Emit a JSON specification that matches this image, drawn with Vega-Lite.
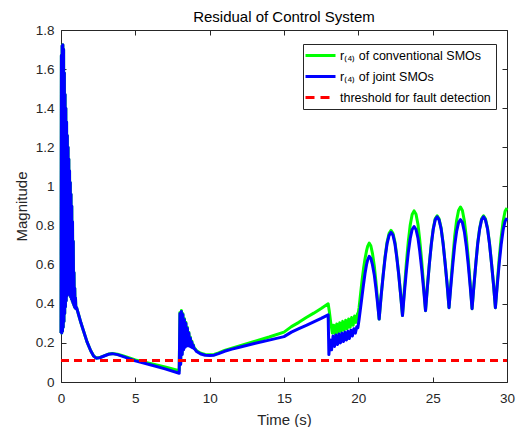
{
  "$schema": "https://vega.github.io/schema/vega-lite/v6.json",
  "width": 446,
  "height": 352,
  "autosize": {"type": "none"},
  "padding": {"left": 61, "top": 30, "right": 17, "bottom": 45},
  "background": "white",
  "title": {"text": "Residual of Control System", "fontSize": 15, "fontWeight": "normal", "font": "Liberation Sans", "color": "#000000", "offset": -2, "anchor": "middle"},
  "config": {"view": {"stroke": null}, "font": "Liberation Sans"},
  "datasets": {
    "conv": [
      {"t":0,"v":0.25},{"t":0.025,"v":1.67},{"t":0.05,"v":0.25},{"t":0.075,"v":1.72},{"t":0.1,"v":0.26},{"t":0.125,"v":1.725},{"t":0.15,"v":0.28},{"t":0.175,"v":1.7},{"t":0.2,"v":0.31},{"t":0.225,"v":1.58},{"t":0.25,"v":0.35},{"t":0.275,"v":1.47},{"t":0.3,"v":0.385},{"t":0.325,"v":1.4},{"t":0.35,"v":0.415},{"t":0.375,"v":1.33},{"t":0.4,"v":0.44},{"t":0.425,"v":1.26},{"t":0.45,"v":0.455},{"t":0.475,"v":1.2},{"t":0.5,"v":0.46},{"t":0.525,"v":1.14},{"t":0.55,"v":0.455},{"t":0.575,"v":1.08},{"t":0.6,"v":0.445},{"t":0.625,"v":1.02},{"t":0.65,"v":0.435},{"t":0.675,"v":0.96},{"t":0.7,"v":0.425},{"t":0.725,"v":0.9},{"t":0.75,"v":0.415},{"t":0.775,"v":0.82},{"t":0.8,"v":0.405},{"t":0.825,"v":0.72},{"t":0.85,"v":0.395},{"t":0.875,"v":0.56},{"t":0.9,"v":0.385},{"t":0.925,"v":0.48},{"t":0.95,"v":0.378},{"t":0.975,"v":0.43},{"t":1.0,"v":0.375},
      {"t":1.05,"v":0.38},{"t":1.2,"v":0.34},{"t":1.35,"v":0.3},{"t":1.5,"v":0.265},{"t":1.75,"v":0.205},{"t":2.0,"v":0.16},{"t":2.2,"v":0.133},{"t":2.37,"v":0.123},{"t":2.6,"v":0.125},{"t":2.9,"v":0.134},{"t":3.2,"v":0.143},{"t":3.45,"v":0.146},{"t":3.8,"v":0.142},{"t":4.2,"v":0.133},{"t":5,"v":0.113},{"t":6,"v":0.095},{"t":7,"v":0.077},{"t":7.95,"v":0.058},
      {"t":8.0,"v":0.355},{"t":8.05,"v":0.095},{"t":8.1,"v":0.365},{"t":8.15,"v":0.145},{"t":8.2,"v":0.35},{"t":8.25,"v":0.17},{"t":8.3,"v":0.325},{"t":8.35,"v":0.182},{"t":8.4,"v":0.305},{"t":8.45,"v":0.188},{"t":8.5,"v":0.28},{"t":8.55,"v":0.189},{"t":8.6,"v":0.255},{"t":8.65,"v":0.187},{"t":8.7,"v":0.23},{"t":8.75,"v":0.183},{"t":8.8,"v":0.21},{"t":8.85,"v":0.179},{"t":8.9,"v":0.191},{"t":8.95,"v":0.175},{"t":9.0,"v":0.172},
      {"t":9.12,"v":0.16},{"t":9.4,"v":0.147},{"t":9.7,"v":0.141},{"t":10.0,"v":0.139},{"t":10.3,"v":0.141},{"t":10.6,"v":0.149},{"t":11,"v":0.161},{"t":11.5,"v":0.173},{"t":12,"v":0.185},{"t":13,"v":0.207},{"t":14,"v":0.23},{"t":15,"v":0.255},{"t":15.5,"v":0.283},{"t":16,"v":0.305},{"t":16.5,"v":0.33},{"t":17,"v":0.352},{"t":17.5,"v":0.376},{"t":17.97,"v":0.4},
      {"t":18.05,"v":0.36},{"t":18.15,"v":0.3},{"t":18.25,"v":0.25},{"t":18.35,"v":0.29},{"t":18.45,"v":0.245},{"t":18.55,"v":0.297},{"t":18.65,"v":0.252},{"t":18.75,"v":0.303},{"t":18.85,"v":0.258},{"t":18.95,"v":0.31},{"t":19.05,"v":0.265},{"t":19.15,"v":0.316},{"t":19.25,"v":0.272},{"t":19.35,"v":0.322},{"t":19.45,"v":0.28},{"t":19.55,"v":0.33},{"t":19.65,"v":0.29},{"t":19.75,"v":0.338},{"t":19.85,"v":0.305},{"t":19.95,"v":0.35},{"t":20.0,"v":0.355},
      {"t":20.05,"v":0.38},{"t":20.15,"v":0.45},{"t":20.25,"v":0.52},{"t":20.35,"v":0.58},{"t":20.45,"v":0.63},{"t":20.55,"v":0.67},{"t":20.63,"v":0.695},{"t":20.73,"v":0.71},
      {"t":20.84,"v":0.697},{"t":20.95,"v":0.658},{"t":21.07,"v":0.596},{"t":21.18,"v":0.516},{"t":21.29,"v":0.422},{"t":21.4,"v":0.322},
      {"t":21.53,"v":0.439},{"t":21.67,"v":0.549},{"t":21.8,"v":0.642},{"t":21.93,"v":0.714},{"t":22.07,"v":0.76},{"t":22.2,"v":0.775},
      {"t":22.33,"v":0.76},{"t":22.46,"v":0.717},{"t":22.58,"v":0.648},{"t":22.71,"v":0.558},{"t":22.84,"v":0.453},{"t":22.97,"v":0.34},
      {"t":23.1,"v":0.479},{"t":23.23,"v":0.608},{"t":23.36,"v":0.718},{"t":23.49,"v":0.803},{"t":23.62,"v":0.857},{"t":23.75,"v":0.875},
      {"t":23.88,"v":0.858},{"t":24.01,"v":0.807},{"t":24.13,"v":0.726},{"t":24.26,"v":0.62},{"t":24.39,"v":0.497},{"t":24.52,"v":0.365},
      {"t":24.65,"v":0.491},{"t":24.78,"v":0.608},{"t":24.91,"v":0.708},{"t":25.04,"v":0.785},{"t":25.17,"v":0.834},{"t":25.3,"v":0.85},
      {"t":25.43,"v":0.834},{"t":25.57,"v":0.787},{"t":25.7,"v":0.712},{"t":25.83,"v":0.615},{"t":25.97,"v":0.502},{"t":26.1,"v":0.38},
      {"t":26.23,"v":0.513},{"t":26.36,"v":0.638},{"t":26.48,"v":0.744},{"t":26.61,"v":0.826},{"t":26.74,"v":0.877},{"t":26.87,"v":0.895},
      {"t":27.0,"v":0.877},{"t":27.13,"v":0.825},{"t":27.26,"v":0.743},{"t":27.39,"v":0.635},{"t":27.52,"v":0.51},{"t":27.65,"v":0.375},
      {"t":27.78,"v":0.498},{"t":27.91,"v":0.613},{"t":28.03,"v":0.711},{"t":28.16,"v":0.786},{"t":28.29,"v":0.834},{"t":28.42,"v":0.85},
      {"t":28.55,"v":0.834},{"t":28.69,"v":0.787},{"t":28.82,"v":0.712},{"t":28.95,"v":0.615},{"t":29.09,"v":0.502},{"t":29.22,"v":0.38},
      {"t":29.35,"v":0.512},{"t":29.48,"v":0.635},{"t":29.61,"v":0.741},{"t":29.74,"v":0.822},{"t":29.87,"v":0.873},{"t":30,"v":0.89}
    ],
    "joint": [
      {"t":0,"v":0.25},{"t":0.025,"v":1.67},{"t":0.05,"v":0.25},{"t":0.075,"v":1.72},{"t":0.1,"v":0.26},{"t":0.125,"v":1.725},{"t":0.15,"v":0.28},{"t":0.175,"v":1.7},{"t":0.2,"v":0.31},{"t":0.225,"v":1.58},{"t":0.25,"v":0.35},{"t":0.275,"v":1.47},{"t":0.3,"v":0.385},{"t":0.325,"v":1.4},{"t":0.35,"v":0.415},{"t":0.375,"v":1.33},{"t":0.4,"v":0.44},{"t":0.425,"v":1.26},{"t":0.45,"v":0.455},{"t":0.475,"v":1.2},{"t":0.5,"v":0.46},{"t":0.525,"v":1.14},{"t":0.55,"v":0.455},{"t":0.575,"v":1.08},{"t":0.6,"v":0.445},{"t":0.625,"v":1.02},{"t":0.65,"v":0.435},{"t":0.675,"v":0.96},{"t":0.7,"v":0.425},{"t":0.725,"v":0.9},{"t":0.75,"v":0.415},{"t":0.775,"v":0.82},{"t":0.8,"v":0.405},{"t":0.825,"v":0.72},{"t":0.85,"v":0.395},{"t":0.875,"v":0.56},{"t":0.9,"v":0.385},{"t":0.925,"v":0.48},{"t":0.95,"v":0.378},{"t":0.975,"v":0.43},{"t":1.0,"v":0.375},
      {"t":1.05,"v":0.38},{"t":1.2,"v":0.34},{"t":1.35,"v":0.3},{"t":1.5,"v":0.265},{"t":1.75,"v":0.205},{"t":2.0,"v":0.16},{"t":2.2,"v":0.132},{"t":2.37,"v":0.122},{"t":2.6,"v":0.124},{"t":2.9,"v":0.133},{"t":3.2,"v":0.142},{"t":3.45,"v":0.145},{"t":3.8,"v":0.14},{"t":4.2,"v":0.13},{"t":5,"v":0.108},{"t":6,"v":0.088},{"t":7,"v":0.067},{"t":7.95,"v":0.045},
      {"t":8.0,"v":0.35},{"t":8.05,"v":0.09},{"t":8.1,"v":0.36},{"t":8.15,"v":0.14},{"t":8.2,"v":0.345},{"t":8.25,"v":0.165},{"t":8.3,"v":0.32},{"t":8.35,"v":0.178},{"t":8.4,"v":0.3},{"t":8.45,"v":0.184},{"t":8.5,"v":0.275},{"t":8.55,"v":0.185},{"t":8.6,"v":0.25},{"t":8.65,"v":0.183},{"t":8.7,"v":0.225},{"t":8.75,"v":0.179},{"t":8.8,"v":0.205},{"t":8.85,"v":0.175},{"t":8.9,"v":0.187},{"t":8.95,"v":0.171},{"t":9.0,"v":0.168},
      {"t":9.12,"v":0.156},{"t":9.4,"v":0.143},{"t":9.7,"v":0.137},{"t":10.0,"v":0.135},{"t":10.3,"v":0.137},{"t":10.6,"v":0.145},{"t":11,"v":0.157},{"t":11.5,"v":0.168},{"t":12,"v":0.178},{"t":13,"v":0.197},{"t":14,"v":0.214},{"t":15,"v":0.232},{"t":15.5,"v":0.255},{"t":16,"v":0.273},{"t":16.5,"v":0.29},{"t":17,"v":0.307},{"t":17.5,"v":0.325},{"t":17.97,"v":0.343},
      {"t":18.02,"v":0.14},{"t":18.1,"v":0.215},{"t":18.2,"v":0.165},{"t":18.3,"v":0.235},{"t":18.4,"v":0.182},{"t":18.5,"v":0.24},{"t":18.6,"v":0.192},{"t":18.7,"v":0.245},{"t":18.8,"v":0.2},{"t":18.9,"v":0.25},{"t":19.0,"v":0.207},{"t":19.1,"v":0.255},{"t":19.2,"v":0.215},{"t":19.3,"v":0.26},{"t":19.4,"v":0.222},{"t":19.5,"v":0.265},{"t":19.6,"v":0.235},{"t":19.7,"v":0.272},{"t":19.8,"v":0.25},{"t":19.9,"v":0.283},{"t":19.97,"v":0.278},
      {"t":20.05,"v":0.32},{"t":20.15,"v":0.38},{"t":20.25,"v":0.44},{"t":20.35,"v":0.5},{"t":20.45,"v":0.555},{"t":20.55,"v":0.6},{"t":20.63,"v":0.625},{"t":20.73,"v":0.643},
      {"t":20.84,"v":0.632},{"t":20.95,"v":0.6},{"t":21.07,"v":0.549},{"t":21.18,"v":0.482},{"t":21.29,"v":0.405},{"t":21.4,"v":0.322},
      {"t":21.53,"v":0.437},{"t":21.67,"v":0.544},{"t":21.8,"v":0.635},{"t":21.93,"v":0.706},{"t":22.07,"v":0.75},{"t":22.2,"v":0.765},
      {"t":22.33,"v":0.751},{"t":22.46,"v":0.708},{"t":22.58,"v":0.64},{"t":22.71,"v":0.553},{"t":22.84,"v":0.45},{"t":22.97,"v":0.34},
      {"t":23.1,"v":0.458},{"t":23.23,"v":0.568},{"t":23.36,"v":0.662},{"t":23.49,"v":0.734},{"t":23.62,"v":0.78},{"t":23.75,"v":0.795},
      {"t":23.88,"v":0.78},{"t":24.01,"v":0.737},{"t":24.13,"v":0.669},{"t":24.26,"v":0.58},{"t":24.39,"v":0.476},{"t":24.52,"v":0.365},
      {"t":24.65,"v":0.489},{"t":24.78,"v":0.605},{"t":24.91,"v":0.704},{"t":25.04,"v":0.781},{"t":25.17,"v":0.829},{"t":25.3,"v":0.845},
      {"t":25.43,"v":0.829},{"t":25.57,"v":0.783},{"t":25.7,"v":0.709},{"t":25.83,"v":0.613},{"t":25.97,"v":0.5},{"t":26.1,"v":0.38},
      {"t":26.23,"v":0.497},{"t":26.36,"v":0.605},{"t":26.48,"v":0.698},{"t":26.61,"v":0.77},{"t":26.74,"v":0.815},{"t":26.87,"v":0.83},
      {"t":27.0,"v":0.815},{"t":27.13,"v":0.769},{"t":27.26,"v":0.697},{"t":27.39,"v":0.603},{"t":27.52,"v":0.493},{"t":27.65,"v":0.375},
      {"t":27.78,"v":0.497},{"t":27.91,"v":0.61},{"t":28.03,"v":0.707},{"t":28.16,"v":0.782},{"t":28.29,"v":0.829},{"t":28.42,"v":0.845},
      {"t":28.55,"v":0.829},{"t":28.69,"v":0.783},{"t":28.82,"v":0.709},{"t":28.95,"v":0.613},{"t":29.09,"v":0.5},{"t":29.22,"v":0.38},
      {"t":29.35,"v":0.499},{"t":29.48,"v":0.609},{"t":29.61,"v":0.704},{"t":29.74,"v":0.777},{"t":29.87,"v":0.822},{"t":30,"v":0.838}
    ],
    "threshold": [{"t":0,"v":0.11},{"t":30,"v":0.11}]
  },
  "layer": [
    {
      "data": {"name": "conv"},
      "mark": {"type": "line", "strokeWidth": 3, "strokeJoin": "round"},
      "encoding": {
        "x": {"field": "t", "type": "quantitative", "scale": {"domain": [0, 30], "nice": false, "zero": false},
          "axis": {"orient": "bottom", "values": [0,5,10,15,20,25,30], "tickSize": -5, "labelPadding": 14, "title": "Time (s)", "titleFontSize": 15, "titleFontWeight": "normal", "titleFont": "Liberation Sans", "titleColor": "#262626", "titlePadding": 8, "labelFontSize": 13.5, "labelFont": "Liberation Sans", "labelColor": "#262626", "labelFlush": false, "grid": false, "domainColor": "#262626", "tickColor": "#262626"}},
        "y": {"field": "v", "type": "quantitative", "scale": {"domain": [0, 1.8], "nice": false, "zero": false},
          "axis": {"orient": "left", "values": [0,0.2,0.4,0.6,0.8,1,1.2,1.4,1.6,1.8], "format": "~g", "tickSize": -5, "labelPadding": 12, "title": "Magnitude", "titleFontSize": 15, "titleFontWeight": "normal", "titleFont": "Liberation Sans", "titleColor": "#262626", "titlePadding": 6, "labelFontSize": 13.5, "labelFont": "Liberation Sans", "labelColor": "#262626", "labelFlush": false, "grid": false, "domainColor": "#262626", "tickColor": "#262626"}},
        "color": {"datum": "r₍₄₎ of conventional SMOs", "type": "nominal",
          "scale": {"domain": ["r₍₄₎ of conventional SMOs", "r₍₄₎ of joint SMOs", "threshold for fault detection"], "range": ["#00ff00", "#0000ff", "#ff0000"]},
          "legend": {"orient": "none", "legendX": 242, "legendY": 14, "title": null, "symbolType": "M-3,0H3", "symbolSize": 100, "symbolStrokeWidth": 3, "symbolOffset": 6, "labelFont": "Liberation Sans", "labelFontSize": 12.5, "labelColor": "#000000", "labelOffset": 13, "strokeColor": "#262626", "fillColor": "white", "padding": 5, "rowPadding": 8,
            "encode": {"symbols": {"update": {"strokeDash": {"signal": "datum.value == 'threshold for fault detection' ? [9, 6] : [1, 0]"}}}}}
        }
      }
    },
    {
      "data": {"name": "joint"},
      "mark": {"type": "line", "strokeWidth": 3, "strokeJoin": "round"},
      "encoding": {
        "x": {"field": "t", "type": "quantitative", "axis": null},
        "y": {"field": "v", "type": "quantitative", "axis": null},
        "color": {"datum": "r₍₄₎ of joint SMOs", "type": "nominal"}
      }
    },
    {
      "data": {"name": "threshold"},
      "mark": {"type": "line", "strokeWidth": 3, "strokeDash": [8, 5]},
      "encoding": {
        "x": {"field": "t", "type": "quantitative", "axis": {"orient": "top", "values": [0,5,10,15,20,25,30], "labels": false, "title": null, "tickSize": -5, "grid": false, "domainColor": "#262626", "tickColor": "#262626"}},
        "y": {"field": "v", "type": "quantitative", "axis": {"orient": "right", "values": [0,0.2,0.4,0.6,0.8,1,1.2,1.4,1.6,1.8], "labels": false, "title": null, "tickSize": -5, "grid": false, "domainColor": "#262626", "tickColor": "#262626"}},
        "color": {"datum": "threshold for fault detection", "type": "nominal"}
      }
    }
  ],
  "resolve": {"axis": {"x": "independent", "y": "independent"}}
}
